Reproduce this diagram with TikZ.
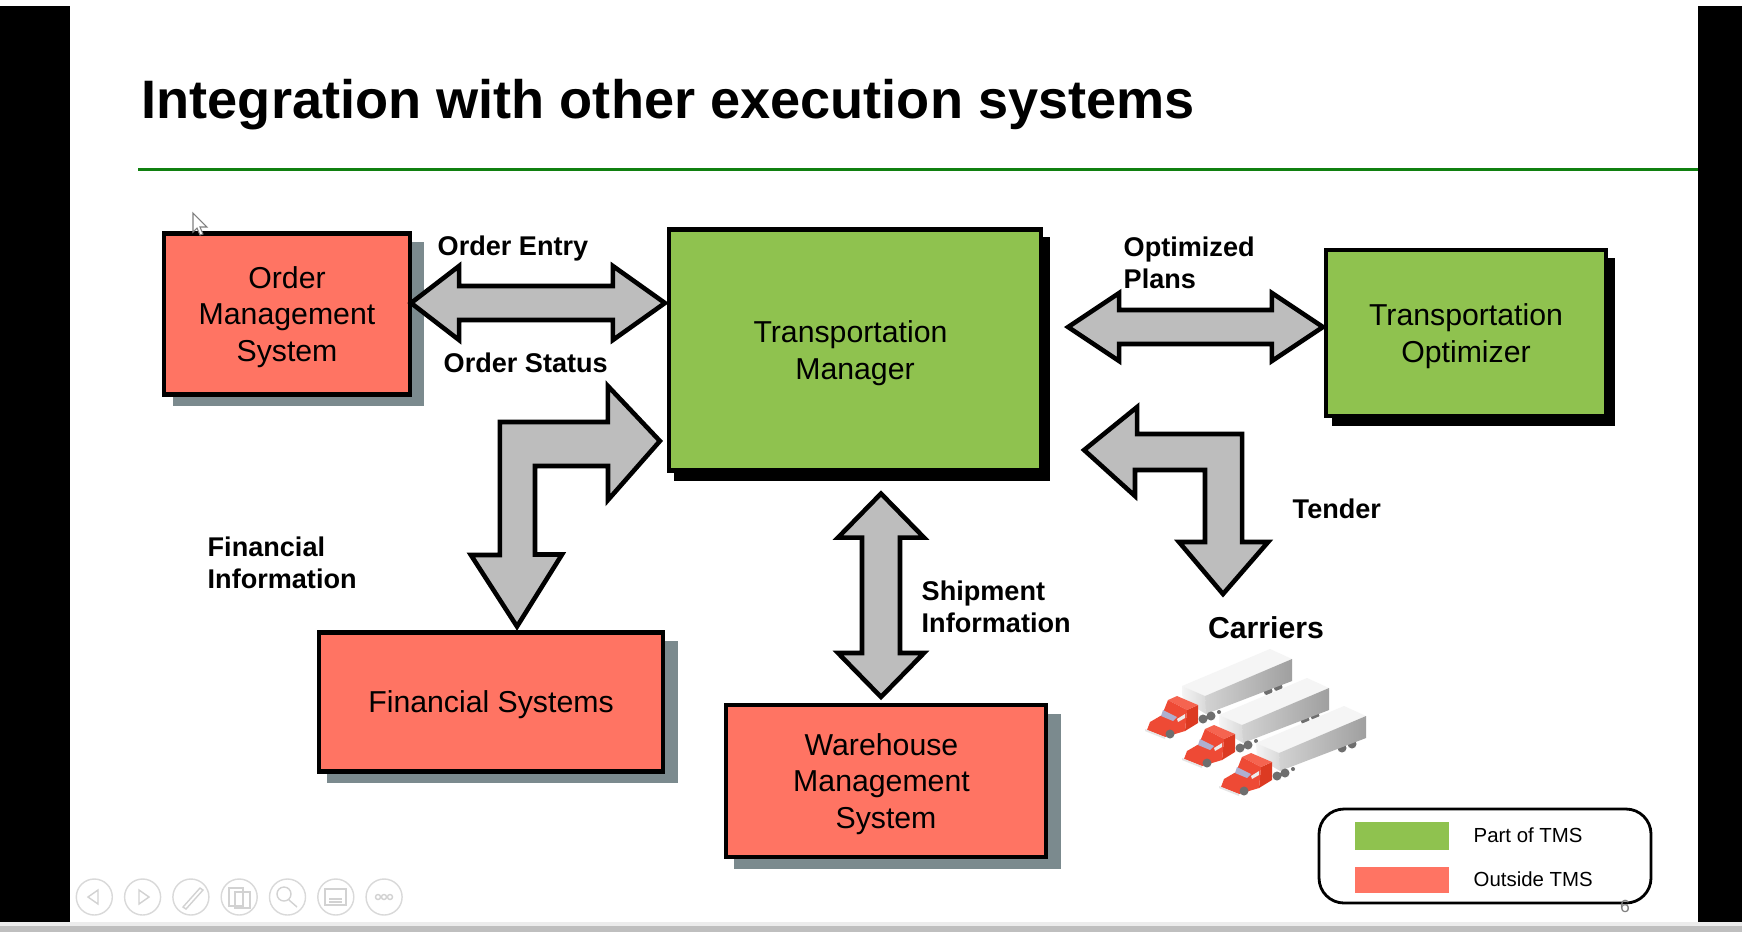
\documentclass[tikz,border=0pt]{standalone}
\usepackage{fontspec}
\setmainfont{Liberation Sans}
\usepackage{xcolor}
\usetikzlibrary{calc, shadows}

\definecolor{outsidered}{HTML}{FF7463}
\definecolor{partgreen}{HTML}{8FC24F}
\definecolor{arrowgray}{HTML}{BDBDBD}
\definecolor{shadowgray}{HTML}{7B8A8E}
\definecolor{rulegreen}{HTML}{108010}
\definecolor{cabred}{HTML}{EE4A35}
\definecolor{cabdark}{HTML}{DC3A22}
\definecolor{cablight}{HTML}{F56450}
\definecolor{wheelgray}{HTML}{6E6E6E}

\newcommand{\capstrut}{\rule{0pt}{8pt}}
\newcommand{\linegap}{\rule{0.09cm}{0pt}}

\tikzset{
  sysbox/.style={draw=black, line width=1.3pt, outer sep=0pt, align=center, font=\fontsize{8.6}{10.4}\selectfont},
  outsidebox/.style={sysbox, fill=outsidered, drop shadow={shadow xshift=0.11cm, shadow yshift=-0.1cm, shadow scale=1.02, opacity=1, fill=shadowgray}},
  partbox/.style={sysbox, fill=partgreen, drop shadow={shadow xshift=0.07cm, shadow yshift=-0.09cm, shadow scale=1.01, opacity=1, fill=black}},
  blockarrow/.style={draw=black, line width=1.3pt, fill=arrowgray, miter limit=10},
  flowlabel/.style={font=\fontsize{7.7}{9.1}\selectfont\bfseries, align=left, anchor=west, inner sep=0pt},
  legendtext/.style={font=\fontsize{5.8}{7}\selectfont, anchor=west, inner sep=0pt},
  toolcircle/.style={draw=gray!30, line width=0.4pt},
  toolicon/.style={draw=gray!35, line width=0.4pt}
}

\begin{document}
\begin{tikzpicture}[x=0.01cm, y=-0.01cm]
\useasboundingbox (0,0) rectangle (1742,932);

% Ecran
\fill[white] (0,0) rectangle (1742,932);
\fill[black] (0,6) rectangle (70,922);
\fill[black] (1698,6) rectangle (1742,922);
\fill[gray!15] (0,922) rectangle (1742,926);
\fill[gray!50] (0,926) rectangle (1742,932);

% Titlu
\node[font=\fontsize{15.4}{18}\selectfont\bfseries, anchor=base west, inner sep=0pt] (title) at (141,118) {Integration with other execution systems};
\fill[rulegreen] (138,168) rectangle (1698,170.5);

% Cutii
\node[outsidebox, minimum width=2.46cm, minimum height=1.61cm] (oms) at (287,314) {\capstrut Order\\Management\\System};
\node[partbox, minimum width=3.72cm, minimum height=2.41cm] (tm) at (855,350) {\capstrut Transportation\linegap\\Manager};
\node[partbox, minimum width=2.8cm, minimum height=1.66cm] (opt) at (1466,333) {\capstrut Transportation\\Optimizer};
\node[outsidebox, minimum width=3.44cm, minimum height=1.39cm] (fin) at (491,702) {\capstrut Financial Systems};
\node[outsidebox, minimum width=3.2cm, minimum height=1.52cm] (wms) at (886,781) {\capstrut Warehouse\linegap\\Management\linegap\\System};
\node[font=\fontsize{8.6}{10}\selectfont\bfseries, inner sep=0pt] (carriers) at (1266,628) {Carriers};

% Sageti
\coordinate (oeL) at ($(oms.east)+(1,-11)$);
\coordinate (oeR) at ($(tm.west)+(-4,-47)$);
\draw[blockarrow] (oeL) -- ++(48,-37) -- ++(0,20) -- ($(oeR)+(-52,-17)$) -- ++(0,-20) -- (oeR)
  -- ++(-52,37) -- ++(0,-20) -- ($(oeL)+(48,17)$) -- ++(0,20) -- cycle;

\coordinate (opL) at ($(tm.east)+(27,-23)$);
\coordinate (opR) at ($(opt.west)+(-3,-6)$);
\draw[blockarrow] (opL) -- ++(51,-34) -- ++(0,17) -- ($(opR)+(-51,-17)$) -- ++(0,-17) -- (opR)
  -- ++(-51,34) -- ++(0,-17) -- ($(opL)+(51,17)$) -- ++(0,17) -- cycle;

\coordinate (fiR) at ($(tm.west)+(-9,91)$);
\coordinate (fiD) at ($(fin.north)+(26,-6)$);
\draw[blockarrow] (fiR) -- ++(-52,-55) -- ++(0,36) -- ++(-108,0) -- ++(0,133) -- ++(-29,0)
  -- (fiD) -- ++(45,-72) -- ++(-27,0) -- ++(0,-88.5) -- ++(73,0) -- ++(0,34) -- cycle;

\coordinate (teL) at ($(tm.east)+(43,100)$);
\coordinate (teD) at ($(carriers.center)+(-43,-34)$);
\draw[blockarrow] (teL) -- ++(53,-43) -- ++(0,27) -- ++(105,0) -- ++(0,108) -- ++(26,0)
  -- (teD) -- ++(-44,-52) -- ++(26,0) -- ++(0,-72) -- ++(-70,0) -- ++(0,26) -- cycle;

\coordinate (siT) at ($(tm.south)+(26,23)$);
\coordinate (siB) at ($(wms.north)+(-5,-8)$);
\draw[blockarrow] (siT) -- ++(43,44) -- ++(-24,0) -- ($(siB)+(19,-44)$) -- ++(24,0) -- (siB)
  -- ++(-43,-44) -- ++(24,0) -- ($(siT)+(-19,44)$) -- ++(-24,0) -- cycle;

% Etichete
\node[flowlabel] (orderentry) at (437,248) {Order Entry};
\node[flowlabel] (orderstatus) at (443,363) {Order Status};
\node[flowlabel] (optplans) at (1123,263) {Optimized\\Plans};
\node[flowlabel] (fininfo) at (207,563) {Financial\\Information};
\node[flowlabel] (shipinfo) at (921,607) {Shipment\\Information};
\node[flowlabel] (tender) at (1292,509) {Tender};

% Camioane
\foreach \tx/\ty in {0/0, 37/29, 74/57} {
  \begin{scope}[shift={(\tx,\ty)}]
    % remorca
    \fill[wheelgray] (1268,691) circle (0.045cm) (1278,687) circle (0.045cm);
    \fill[gray!8] (1182,686) -- (1270,649) -- (1292,659) -- (1205,696) -- cycle;
    \shade[left color=gray!35, right color=gray!75] (1205,696) -- (1292,659) -- (1292,681) -- (1206,714) -- cycle;
    \shade[left color=gray!8, right color=gray!30] (1182,686) -- (1205,696) -- (1206,714) -- (1183,700) -- cycle;
    \fill[wheelgray] (1203,719) circle (0.045cm) (1211,716) circle (0.045cm) (1219,712) circle (0.02cm);
    % cabina
    \fill[cabdark] (1187,710) -- (1198,705) -- (1198,723) -- (1185,731) -- cycle;
    \fill[cablight] (1168,700) -- (1177,696) -- (1198,705) -- (1187,710) -- cycle;
    \fill[cabred] (1168,700) -- (1187,710) -- (1185,731) -- (1165,737) -- (1147,730) -- (1150,722) -- (1162,715) -- cycle;
    \fill[gray!20] (1145,729) -- (1165,737) -- (1165,739) -- (1145,731) -- cycle;
    \fill[blue!25!gray!50] (1163,710) -- (1177,717) -- (1173,721) -- (1161,716) -- cycle;
    \fill[gray!15] (1177,719) -- (1185,714) -- (1185,718) -- (1178,722) -- cycle;
    \fill[wheelgray] (1170,734) circle (0.045cm);
  \end{scope}
}

% Legenda
\draw[black, line width=0.8pt, rounded corners=0.25cm] (1319,809) rectangle (1651,903);
\node[fill=partgreen, minimum width=0.94cm, minimum height=0.28cm, inner sep=0pt] (partswatch) at (1402,836) {};
\node[fill=outsidered, minimum width=0.94cm, minimum height=0.26cm, inner sep=0pt] (outswatch) at (1402,880) {};
\node[legendtext] (parttext) at (1473,835) {Part of TMS};
\node[legendtext] (outtext) at (1473,879) {Outside TMS};
\node[font=\fontsize{5}{6}\selectfont, text=gray, inner sep=0pt] (pagenum) at (1625,906) {6};

% Cursor
\draw[gray, fill=white, line width=0.3pt] (193,213) -- (193,232) -- (197,228) -- (200,235) -- (203,234) -- (200,227) -- (207,227) -- cycle;

% Bara de unelte
\foreach \k in {0,...,6} {
  \draw[toolcircle] ({94.3+48.3*\k},897) circle (0.18cm);
}
\draw[toolicon] (98,890) -- (88,897) -- (98,904) -- cycle;
\draw[toolicon] (139,890) -- (149,897) -- (139,904) -- cycle;
\draw[toolicon] (183,907) -- (200,888) -- (203,890) -- (186,909) -- cycle;
\draw[toolicon] (229,888) rectangle (243,906) (235,892) rectangle (250,908);
\draw[toolicon] (284,894) circle (0.07cm) (289,900) -- (297,907);
\draw[toolicon] (325,889) rectangle (346,905) (329,899) -- (342,899) (329,902) -- (342,902);
\foreach \k in {-1,0,1} {
  \draw[toolicon] ({384+6*\k},897) circle (0.025cm);
}
\end{tikzpicture}
\end{document}
